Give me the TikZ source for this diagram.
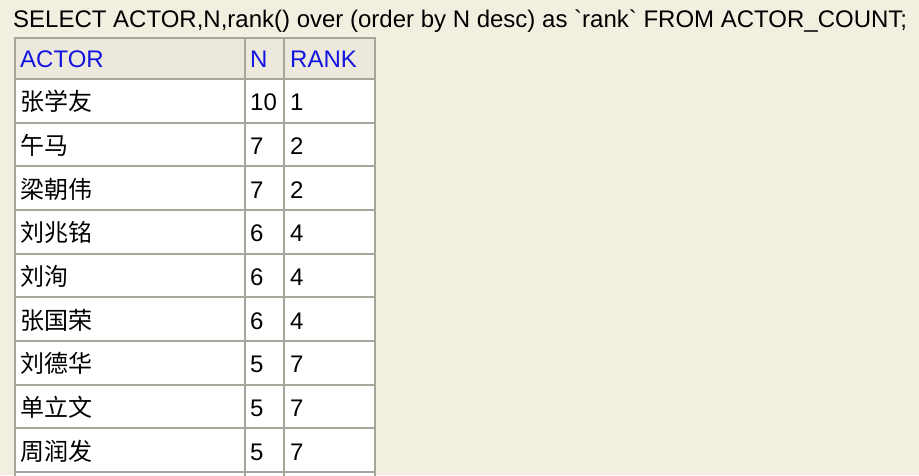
\documentclass[tikz,border=0pt]{standalone}
\usepackage{fontspec}
\setmainfont{Liberation Sans}[Ligatures=TeXOff]
\newfontfamily\cjk{Noto Sans CJK SC}
\definecolor{pagebg}{RGB}{243,239,224}
\definecolor{headbg}{RGB}{236,233,220}
\definecolor{gridgray}{RGB}{168,166,155}
\definecolor{headblue}{RGB}{20,20,225}
\tikzset{
	cell/.style={anchor=base west, inner sep=0pt, font=\fontsize{24}{28}\selectfont},
	headcell/.style={cell, text=headblue},
	gridline/.style={line width=2pt, color=gridgray}
}

\begin{document}
\begin{tikzpicture}[x=1pt, y=-1pt]
		%%%%% START %%%%%
		
		\fill[pagebg] (0, 0) rectangle (919, 475);
		\useasboundingbox (0, 0) rectangle (919, 475);
		
		\node[cell] (query) at (13, 27) {SELECT ACTOR,N,rank() over (order by N desc) as `rank` FROM ACTOR\_COUNT;};
		
		% table body
		\fill[headbg] (15, 38) rectangle (375, 79);
		\fill[white] (15, 79) rectangle (375, 476);
		
		\draw[gridline] (14, 38) -- (376, 38);
		\draw[gridline] (14, 79) -- (376, 79);
		\foreach \k in {1,...,9}
			\draw[gridline] (14, {79+43.67*\k}) -- (376, {79+43.67*\k});
		\foreach \x in {15, 245, 284, 375}
			\draw[gridline] (\x, 37) -- (\x, 476);
		
		% header
		\node[headcell] (head-actor) at (20, 67) {ACTOR};
		\node[headcell] (head-n) at (250, 67) {N};
		\node[headcell] (head-rank) at (290, 67) {RANK};
		
		% rows
		\foreach \who/\n/\r [count=\i] in {张学友/10/1, 午马/7/2, 梁朝伟/7/2, 刘兆铭/6/4, 刘洵/6/4, 张国荣/6/4, 刘德华/5/7, 单立文/5/7, 周润发/5/7} {
			\node[cell] (actor-\i) at (20, {67+43.67*\i}) {\cjk \who};
			\node[cell] (n-\i) at (250, {67+43.67*\i}) {\n};
			\node[cell] (rank-\i) at (290, {67+43.67*\i}) {\r};
		}
		
		%%%%% END %%%%%
	\end{tikzpicture}
\end{document}
